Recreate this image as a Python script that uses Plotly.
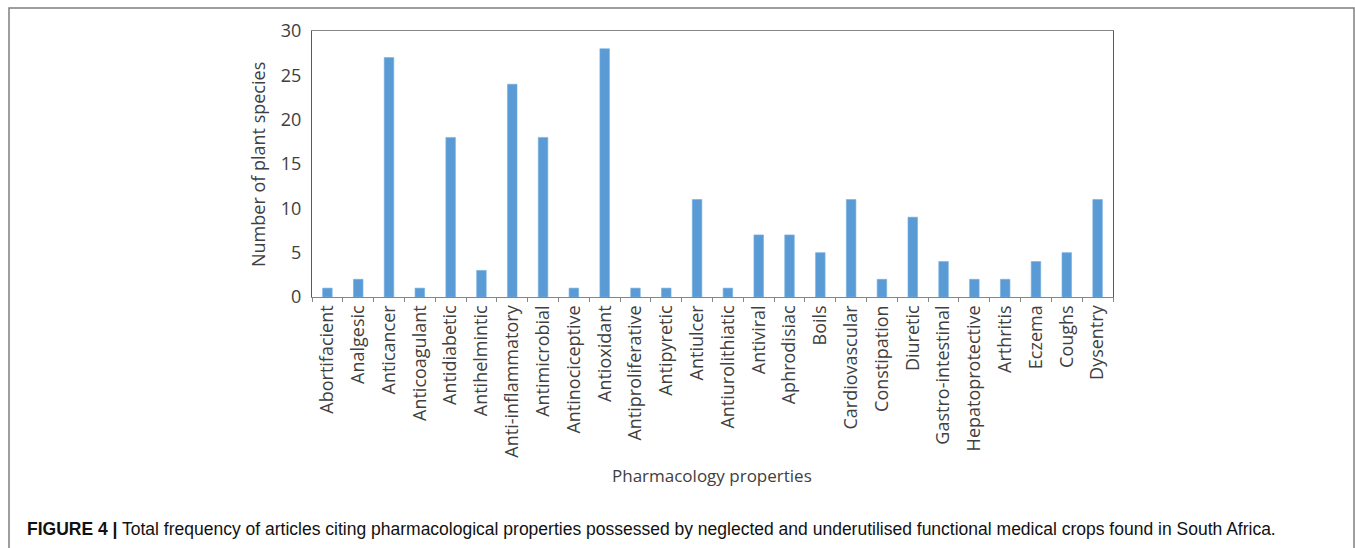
import plotly.graph_objects as go

# Pharmacological properties and number of plant species citing each
properties = [
    "Abortifacient", "Analgesic", "Anticancer", "Anticoagulant", "Antidiabetic",
    "Antihelmintic", "Anti-inflammatory", "Antimicrobial", "Antinociceptive",
    "Antioxidant", "Antiproliferative", "Antipyretic", "Antiulcer",
    "Antiurolithiatic", "Antiviral", "Aphrodisiac", "Boils", "Cardiovascular",
    "Constipation", "Diuretic", "Gastro-intestinal", "Hepatoprotective",
    "Arthritis", "Eczema", "Coughs", "Dysentry",
]
species_counts = [1, 2, 27, 1, 18, 3, 24, 18, 1, 28, 1, 1, 11, 1, 7, 7, 5, 11,
                  2, 9, 4, 2, 2, 4, 5, 11]
y_ticks = [0, 5, 10, 15, 20, 25, 30]

W, H = 1355, 548
L, R, T, B = 312, 1113, 31, 297  # plot-area edges in pixels

AX_FONT = "Open Sans, Carlito, Noto Sans, sans-serif"
TXT = "#404040"
AXC = "#868686"

fig = go.Figure(
    go.Bar(
        x=properties,
        y=species_counts,
        marker=dict(color="#5B9BD5", line=dict(color="#74AEE0", width=0.6)),
        hoverinfo="x+y",
    )
)


def px_x(x):
    return (x - L) / (R - L)


def px_y(y):
    return (B - y) / (B - T)


fig.update_layout(
    width=W,
    height=H,
    margin=dict(l=L, r=W - R, t=T, b=H - B, autoexpand=False),
    paper_bgcolor="white",
    plot_bgcolor="white",
    bargap=0.69,
    showlegend=False,
    font=dict(family=AX_FONT, color=TXT, size=16),
    xaxis=dict(
        type="category",
        tickangle=-90,
        showline=True,
        linecolor=AXC,
        linewidth=1.3,
        mirror=True,
        ticks="outside",
        tickson="boundaries",
        ticklen=4,
        tickcolor=AXC,
        showgrid=False,
        tickfont=dict(size=18, color=TXT),
        automargin=False,
    ),
    yaxis=dict(
        range=[0, 30],
        tickvals=y_ticks,
        showline=True,
        linecolor="#595959",
        linewidth=1,
        mirror=True,
        showgrid=False,
        ticks="",
        ticklabelstandoff=6,
        tickfont=dict(size=18, color=TXT),
        zeroline=False,
        automargin=False,
    ),
    annotations=[
        dict(
            text="Number of plant species",
            x=px_x(258), y=px_y(165), xref="paper", yref="paper",
            xanchor="center", yanchor="middle",
            textangle=-90, showarrow=False,
            font=dict(size=18, color=TXT, family=AX_FONT),
        ),
        dict(
            text="Pharmacology properties",
            x=px_x(712), y=px_y(475), xref="paper", yref="paper",
            xanchor="center", yanchor="middle",
            showarrow=False,
            font=dict(size=17, color=TXT, family=AX_FONT),
        ),
        dict(
            text="<b>FIGURE 4 |</b> Total frequency of articles citing pharmacological "
                 "properties possessed by neglected and underutilised functional "
                 "medical crops found in South Africa.",
            x=px_x(25), y=px_y(529), xref="paper", yref="paper",
            xanchor="left", yanchor="middle", showarrow=False,
            font=dict(size=17.5, color="#111111",
                      family="Liberation Sans Narrow, Liberation Sans, Arial, sans-serif"),
        ),
    ],
    shapes=[
        dict(
            type="rect", xref="paper", yref="paper",
            x0=px_x(9), x1=px_x(1354), y0=px_y(560), y1=px_y(8),
            line=dict(color="#7F7F7F", width=1.5),
            fillcolor="rgba(0,0,0,0)", layer="below",
        ),
    ],
)

fig.write_html("out.html")
